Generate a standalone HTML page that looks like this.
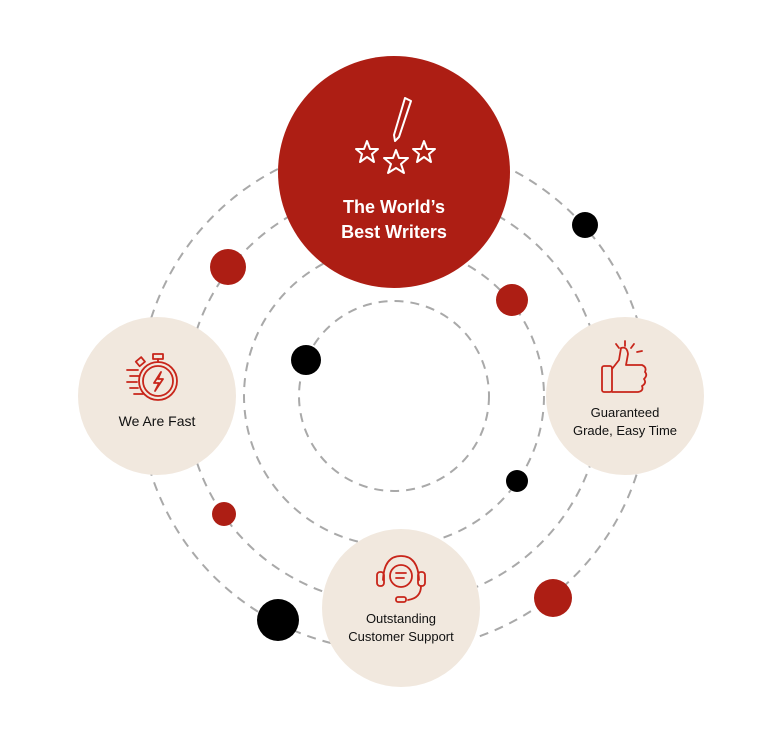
<!DOCTYPE html>
<html><head><meta charset="utf-8"><style>
html,body{margin:0;padding:0;background:#fff;}
svg{display:block;font-family:"Liberation Sans",sans-serif;}
</style></head><body>
<svg width="782" height="744" viewBox="0 0 782 744" xmlns="http://www.w3.org/2000/svg">
<g fill="none" stroke="#a9a9a9" stroke-width="2" stroke-dasharray="9 7">
<circle cx="394" cy="396" r="95"/>
<circle cx="394" cy="396" r="150"/>
<circle cx="394" cy="396" r="208"/>
<circle cx="394" cy="396" r="255"/>
</g>
<circle cx="228" cy="267" r="18" fill="#ad1e14"/>
<circle cx="512" cy="300" r="16" fill="#ad1e14"/>
<circle cx="553" cy="598" r="19" fill="#ad1e14"/>
<circle cx="224" cy="514" r="12" fill="#ad1e14"/>
<circle cx="585" cy="225" r="13" fill="#000"/>
<circle cx="306" cy="360" r="15" fill="#000"/>
<circle cx="517" cy="481" r="11" fill="#000"/>
<circle cx="278" cy="620" r="21" fill="#000"/>

<circle cx="394" cy="172" r="116" fill="#ad1e14"/>
<g fill="none" stroke="#fff" stroke-width="2" stroke-linejoin="round">
<path d="M405 98 L411 101 L399 137 L395 141 L394 135 Z"/>
<polygon points="367,141 370,149 378,149 372,154 374,162 367,157 360,162 362,154 356,149 364,149"/>
<polygon points="396,150 399,158 408,158 401,164 404,173 396,168 388,173 391,164 384,158 393,158"/>
<polygon points="424,141 427,149 435,149 429,154 431,162 424,157 417,162 419,154 413,149 421,149"/>
</g>
<text x="394" y="213" fill="#fff" font-size="18" font-weight="bold" text-anchor="middle">The World’s</text>
<text x="394" y="238" fill="#fff" font-size="18" font-weight="bold" text-anchor="middle">Best Writers</text>

<circle cx="157" cy="396" r="79" fill="#f1e8de"/>
<circle cx="625" cy="396" r="79" fill="#f1e8de"/>
<circle cx="401" cy="608" r="79" fill="#f1e8de"/>

<g fill="none" stroke="#c8251a" stroke-width="1.8" stroke-linecap="round" stroke-linejoin="round">
<circle cx="158" cy="381" r="19"/><circle cx="158" cy="381" r="15"/>
<rect x="153" y="354" width="10" height="5"/><line x1="158" y1="359" x2="158" y2="362"/>
<rect x="137" y="359" width="7" height="6" transform="rotate(-40 140 362)"/>
<path d="M161 372 L154 383 L159 383 L155 391 L163 379 L158 379 Z"/>
<line x1="127" y1="370" x2="138" y2="370"/><line x1="130" y1="376" x2="139" y2="376"/>
<line x1="127" y1="382" x2="137" y2="382"/><line x1="130" y1="388" x2="138" y2="388"/><line x1="134" y1="394" x2="143" y2="394"/>
</g>
<text x="157" y="426" font-size="14" fill="#111" text-anchor="middle">We Are Fast</text>

<g fill="none" stroke="#c8251a" stroke-width="1.8" stroke-linecap="round" stroke-linejoin="round">
<rect x="602" y="366" width="10" height="26" rx="2"/>
<path d="M612 369 L619 360 L621 348 Q627 346 628 354 L626 365 L642 365 Q647 367 645 372 Q648 375 644 379 Q647 383 642 386 Q644 391 638 392 L612 392"/>
<line x1="625" y1="341" x2="625" y2="346"/><line x1="616" y1="344" x2="619" y2="348"/><line x1="634" y1="344" x2="631" y2="348"/><line x1="637" y1="352" x2="642" y2="351"/>
</g>
<text x="625" y="417" font-size="13" fill="#111" text-anchor="middle">Guaranteed</text>
<text x="625" y="435" font-size="13" fill="#111" text-anchor="middle">Grade, Easy Time</text>

<g fill="none" stroke="#c8251a" stroke-width="1.8" stroke-linecap="round" stroke-linejoin="round">
<path d="M383 580 Q384 556 401 556 Q418 556 419 580"/>
<rect x="377" y="572" width="7" height="14" rx="3"/><rect x="418" y="572" width="7" height="14" rx="3"/>
<circle cx="401" cy="576" r="11"/>
<line x1="396" y1="573" x2="406" y2="573"/><line x1="396" y1="578" x2="404" y2="578"/>
<path d="M421 586 Q421 598 408 600"/><rect x="396" y="597" width="10" height="5" rx="2"/>
</g>
<text x="401" y="623" font-size="13" fill="#111" text-anchor="middle">Outstanding</text>
<text x="401" y="641" font-size="13" fill="#111" text-anchor="middle">Customer Support</text>
</svg>
</body></html>
